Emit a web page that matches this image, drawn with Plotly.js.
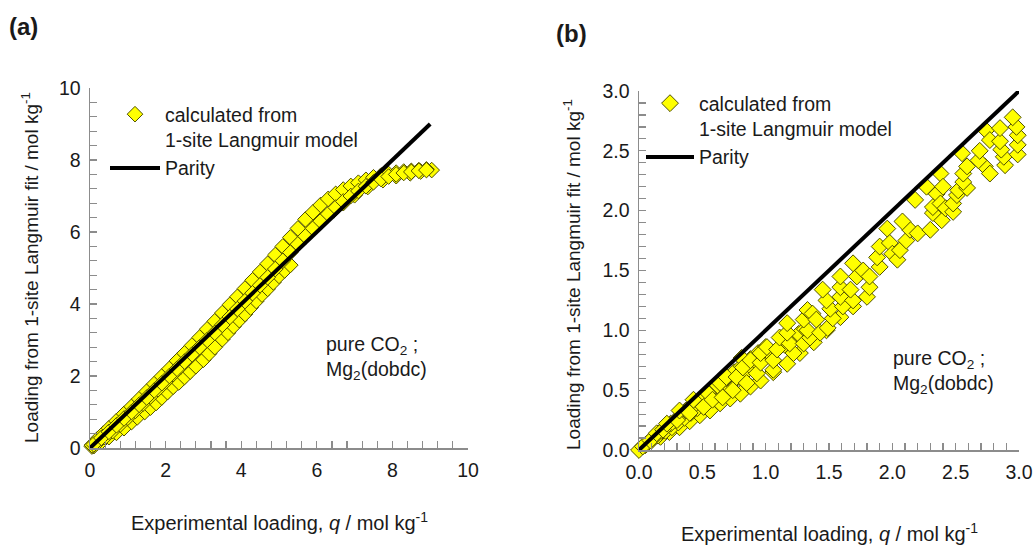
<!DOCTYPE html>
<html>
<head>
<meta charset="utf-8">
<script src="https://cdn.plot.ly/plotly-3.0.1.min.js"></script>
<style>html,body{margin:0;padding:0;background:#fff}#chart{width:1034px;height:548px}</style>
</head>
<body>
<div id="chart"></div>
<script>
// ---------- Panel (a): experimental loading vs 1-site Langmuir fit, mol/kg ----------
const aX1 = [0.1,0.3,0.5,0.7,0.9,1.1,1.25,1.45,1.6,1.75,1.9,2.05,2.2,2.35,2.5,2.65,2.8,3.0,3.15,3.3,3.5,3.65,3.8,3.95,4.1,4.25,4.4,4.55,4.7,4.85,5.0,5.15,5.3];
const aY1 = [0.05,0.17,0.3,0.42,0.55,0.72,0.85,1.0,1.12,1.25,1.4,1.55,1.7,1.82,1.97,2.12,2.27,2.45,2.62,2.8,3.02,3.2,3.38,3.55,3.72,3.9,4.08,4.26,4.42,4.6,4.78,4.93,5.08];
const aX2 = [0.05,0.2,0.4,0.6,0.8,1.0,1.2,1.4,1.6,1.8,2.0,2.2,2.4,2.6,2.8,3.0,3.2,3.4,3.6,3.8,4.0,4.2,4.4,4.6,4.8,5.0,5.2,5.4,5.6,5.8,6.0,6.2,6.45,6.7,7.0,7.35,7.75,8.1,8.47,8.75,9.04];
const aY2 = [0.04,0.15,0.3,0.47,0.65,0.84,1.03,1.23,1.43,1.63,1.84,2.05,2.26,2.47,2.68,2.9,3.12,3.34,3.56,3.78,4.0,4.22,4.45,4.67,4.9,5.13,5.37,5.62,5.85,6.06,6.25,6.42,6.6,6.8,7.02,7.25,7.44,7.55,7.63,7.68,7.72];
const aX3 = [0.05,0.2,0.35,0.5,0.7,0.9,1.1,1.3,1.5,1.7,1.9,2.1,2.3,2.5,2.7,2.9,3.1,3.3,3.5,3.7,3.9,4.1,4.3,4.5,4.7,4.9,5.1,5.3,5.5,5.7,5.9,6.1,6.3,6.5,6.7,6.9,7.1,7.3,7.5,7.7,7.9,8.1,8.3,8.5,8.7,8.9];
const aY3 = [0.08,0.25,0.4,0.55,0.75,0.95,1.15,1.36,1.57,1.78,1.99,2.2,2.42,2.63,2.85,3.07,3.3,3.52,3.75,3.98,4.2,4.43,4.66,4.89,5.12,5.36,5.6,5.85,6.1,6.35,6.55,6.75,6.92,7.06,7.18,7.28,7.37,7.45,7.52,7.57,7.61,7.65,7.68,7.7,7.72,7.74];
const aX4 = [0.1,0.3,0.5,0.7,0.9,1.1,1.3,1.5,1.7,1.9,2.1,2.3,2.5,2.7,2.9,3.1,3.3,3.5,3.7,3.9,4.1,4.3,4.5,4.7,4.9,5.1,5.3,5.5,5.7,5.9,6.1,6.3,6.5,6.7,6.9,7.1,7.3,7.5,7.7,7.9,8.1,8.3,8.5,8.7,8.9];
const aY4 = [0.1,0.28,0.45,0.63,0.82,1.0,1.2,1.4,1.6,1.8,2.0,2.2,2.4,2.6,2.8,3.0,3.2,3.42,3.64,3.86,4.08,4.3,4.52,4.74,4.97,5.2,5.43,5.66,5.88,6.1,6.3,6.5,6.68,6.85,7.0,7.14,7.27,7.38,7.47,7.54,7.6,7.64,7.67,7.7,7.72];
const aParityX = [0, 9];
const aParityY = [0, 9];

// ---------- Panel (b): low-loading zoom ----------
const bX1 = [0.17,0.24,0.32,0.40,0.48,0.56,0.64,0.72,0.80,0.88,0.96,1.06,1.17,1.27,1.38,1.48,1.59,1.69,1.80];
const bY1 = [0.11,0.15,0.19,0.24,0.29,0.33,0.39,0.43,0.47,0.53,0.58,0.65,0.72,0.81,0.90,1.00,1.11,1.20,1.28];
const bX2 = [0.0,0.03,0.09,0.14,0.19,0.22,0.30,0.32,0.40,0.43,0.51,0.54,0.58,0.66,0.64,0.69,0.74,0.77,0.85,0.81,0.82,0.88,0.93,0.96,0.96,1.01,1.06,1.06,1.09,1.11,1.22,1.19,1.17,1.17,1.30,1.35,1.33,1.30,1.33,1.37,1.40,1.43,1.49,1.53,1.51,1.48,1.45,1.61,1.59,1.59,1.59,1.69,1.67,1.72,1.69,1.77,1.82,1.82,1.90,1.88,1.90,1.96,1.98,2.0,2.04,2.06,2.11,2.14,2.20,2.08,2.18,2.30,2.27,2.35,2.39,2.32,2.32,2.38,2.38,2.40,2.42,2.48,2.48,2.51,2.52,2.59,2.56,2.56,2.59,2.55,2.73,2.77,2.68,2.69,2.74,2.77,2.89,2.88,2.86,2.85,2.85,2.99,2.99,2.99,2.98,2.95];
const bY2 = [0.0,0.03,0.08,0.14,0.17,0.22,0.25,0.33,0.31,0.42,0.36,0.48,0.42,0.44,0.56,0.61,0.50,0.61,0.56,0.77,0.69,0.75,0.64,0.73,0.81,0.86,0.67,0.75,0.84,0.94,0.81,0.89,0.98,1.06,0.89,0.94,1.00,1.09,1.17,1.14,1.09,0.98,1.02,1.10,1.18,1.25,1.34,1.20,1.28,1.36,1.45,1.25,1.34,1.45,1.56,1.50,1.36,1.45,1.53,1.61,1.70,1.85,1.73,1.64,1.59,1.67,1.75,1.84,1.81,1.91,2.09,1.84,2.20,2.14,1.92,1.98,2.03,2.06,2.31,2.20,2.02,1.99,2.06,2.13,2.17,2.19,2.24,2.31,2.37,2.48,2.37,2.31,2.42,2.50,2.67,2.59,2.38,2.45,2.51,2.58,2.69,2.47,2.55,2.63,2.70,2.78];
const bX3 = [0.05,0.1,0.15,0.21,0.26,0.31,0.36,0.41,0.46,0.5,0.55,0.6,0.65,0.7,0.74,0.79,0.84,0.89,0.94,0.99,1.04,1.1,1.15,1.2,1.26,1.31];
const bY3 = [0.04,0.08,0.12,0.16,0.19,0.23,0.27,0.31,0.35,0.38,0.42,0.46,0.5,0.54,0.57,0.61,0.65,0.69,0.72,0.77,0.8,0.85,0.88,0.93,0.97,1.01];
const bX4 = [0.06,0.12,0.18,0.25,0.31,0.37,0.44,0.5,0.56,0.62,0.69,0.75,0.81,0.88,0.94,1.0];
const bY4 = [0.05,0.11,0.16,0.22,0.27,0.33,0.38,0.43,0.49,0.54,0.6,0.65,0.7,0.76,0.81,0.86];
const bParityX = [0, 3];
const bParityY = [0, 3];

const FONT = 'Liberation Sans, Arial, sans-serif';
const markerA = {symbol: 'diamond', size: 12, color: '#ffff00', line: {color: '#4f4f00', width: 1}};
const markerB = {symbol: 'diamond', size: 13, color: '#ffff00', line: {color: '#4f4f00', width: 1}};
const parityLine = {color: '#000', width: 4};
const legendName = 'calculated from<br>1-site Langmuir model';

function pts(x, y, xa, ya, leg, show, mk) {
  return {x: x, y: y, xaxis: xa, yaxis: ya, type: 'scatter', mode: 'markers', marker: mk,
    name: legendName, legend: leg, showlegend: show, legendgroup: leg + 'p', cliponaxis: false, hoverinfo: 'x+y'};
}

const traces = [
  pts(aX1, aY1, 'x', 'y', 'legend', true, markerA),
  pts(aX2, aY2, 'x', 'y', 'legend', false, markerA),
  pts(aX3, aY3, 'x', 'y', 'legend', false, markerA),
  pts(aX4, aY4, 'x', 'y', 'legend', false, markerA),
  {x: aParityX, y: aParityY, xaxis: 'x', yaxis: 'y', type: 'scatter', mode: 'lines', line: parityLine, name: 'Parity', legend: 'legend'},
  pts(bX1, bY1, 'x2', 'y2', 'legend2', true, markerB),
  pts(bX3, bY3, 'x2', 'y2', 'legend2', false, markerB),
  pts(bX4, bY4, 'x2', 'y2', 'legend2', false, markerB),
  pts(bX2, bY2, 'x2', 'y2', 'legend2', false, markerB),
  {x: bParityX, y: bParityY, xaxis: 'x2', yaxis: 'y2', type: 'scatter', mode: 'lines', line: parityLine, name: 'Parity', legend: 'legend2'}
];

function axis(domain, range, dtick, minor, fmt, anchor) {
  return {domain: domain, range: range, anchor: anchor, dtick: dtick, tick0: 0, tickformat: fmt,
    showline: true, linecolor: '#8c8c8c', linewidth: 1.5, showgrid: false, zeroline: false,
    ticks: 'inside', ticklen: 7, tickcolor: '#8c8c8c', tickwidth: 1.2,
    minor: {dtick: minor, tick0: 0, ticks: 'inside', ticklen: 7, tickcolor: '#8c8c8c', tickwidth: 1.2, showgrid: false},
    tickfont: {family: FONT, size: 19.5, color: '#1a1a1a'}, fixedrange: true, automargin: false, ticklabelstandoff: 4};
}

const W = 1034, H = 548;
const legendFont = {family: FONT, size: 19.5, color: '#1a1a1a'};
const layout = {
  width: W, height: H,
  margin: {l: 0, r: 0, t: 0, b: 0},
  paper_bgcolor: '#fff', plot_bgcolor: 'rgba(0,0,0,0)',
  font: {family: FONT, size: 19.5, color: '#1a1a1a'},
  xaxis: axis([90 / W, 468 / W], [0, 10], 2, 0.4, '', 'y'),
  yaxis: axis([1 - 448 / H, 1 - 88 / H], [0, 10], 2, 0.4, '', 'x'),
  xaxis2: axis([639 / W, 1019 / W], [0, 3], 0.5, 0.1, '.1f', 'y2'),
  yaxis2: axis([1 - 450 / H, 1 - 91 / H], [0, 3], 0.5, 0.1, '.1f', 'x2'),
  showlegend: true,
  legend: {x: 105 / W, y: 1 - 95 / H, xanchor: 'left', yanchor: 'top', bgcolor: 'rgba(0,0,0,0)',
    font: legendFont, itemwidth: 50, valign: 'top', tracegroupgap: 0, itemclick: false},
  legend2: {x: 641 / W, y: 1 - 84 / H, xanchor: 'left', yanchor: 'top', bgcolor: 'rgba(0,0,0,0)',
    font: legendFont, itemwidth: 48, valign: 'top', tracegroupgap: 0, itemclick: false},
  annotations: [
    {text: '<b>(a)</b>', xref: 'paper', yref: 'paper', x: 7 / W, y: 1 - 27 / H, xanchor: 'left', yanchor: 'middle', showarrow: false, font: {family: FONT, size: 24, color: '#1a1a1a'}},
    {text: '<b>(b)</b>', xref: 'paper', yref: 'paper', x: 554 / W, y: 1 - 33 / H, xanchor: 'left', yanchor: 'middle', showarrow: false, font: {family: FONT, size: 24, color: '#1a1a1a'}},
    {text: 'Loading from 1-site Langmuir fit / mol kg<sup>-1</sup>', xref: 'paper', yref: 'paper', x: 30 / W, y: 1 - 268 / H, textangle: -90, xanchor: 'center', yanchor: 'middle', showarrow: false, font: {family: FONT, size: 19}},
    {text: 'Loading from 1-site Langmuir fit / mol kg<sup>-1</sup>', xref: 'paper', yref: 'paper', x: 572 / W, y: 1 - 275 / H, textangle: -90, xanchor: 'center', yanchor: 'middle', showarrow: false, font: {family: FONT, size: 19}},
    {text: 'Experimental loading, <i>q</i> / mol kg<sup>-1</sup>', xref: 'paper', yref: 'paper', x: 279 / W, y: 1 - 521 / H, xanchor: 'center', yanchor: 'middle', showarrow: false, font: {family: FONT, size: 20}},
    {text: 'Experimental loading, <i>q</i> / mol kg<sup>-1</sup>', xref: 'paper', yref: 'paper', x: 829 / W, y: 1 - 532 / H, xanchor: 'center', yanchor: 'middle', showarrow: false, font: {family: FONT, size: 20}},
    {text: 'pure CO<sub>2</sub> ;<br>Mg<sub>2</sub>(dobdc)', xref: 'paper', yref: 'paper', x: 324 / W, y: 1 - 358 / H, xanchor: 'left', yanchor: 'middle', align: 'left', showarrow: false, font: {family: FONT, size: 19.5}},
    {text: 'pure CO<sub>2</sub> ;<br>Mg<sub>2</sub>(dobdc)', xref: 'paper', yref: 'paper', x: 891 / W, y: 1 - 372 / H, xanchor: 'left', yanchor: 'middle', align: 'left', showarrow: false, font: {family: FONT, size: 19.5}}
  ]
};

Plotly.newPlot('chart', traces, layout, {displayModeBar: false, staticPlot: true});
</script>
</body>
</html>
